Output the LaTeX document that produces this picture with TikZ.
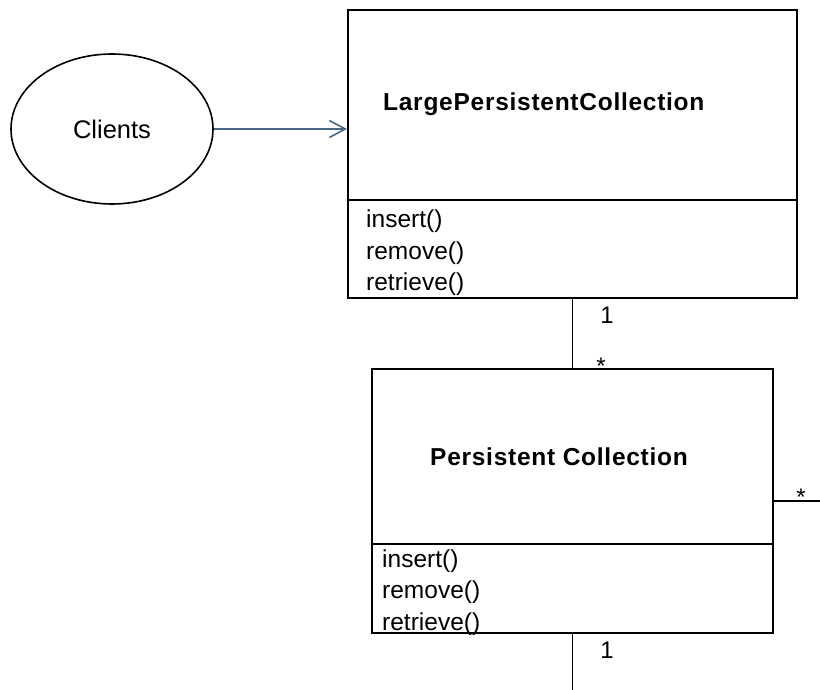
\documentclass[tikz,border=0pt]{standalone}
\usepackage{fontspec}
\setmainfont{Liberation Sans}
\newfontfamily\titlefont[LetterSpace=3]{Liberation Sans}
\usetikzlibrary{arrows.meta,shapes.geometric}
\definecolor{linkblue}{RGB}{74,104,134}
\tikzset{
  classbox/.style={draw=black, line width=1.9pt, inner sep=0pt},
  divider/.style={draw=black, line width=1.9pt},
  txt/.style={inner sep=0pt, anchor=base west, font=\fontsize{24.5}{29}\selectfont},
  title/.style={inner sep=0pt, anchor=base west, font=\titlefont\bfseries\fontsize{24.5}{29}\selectfont},
  mult/.style={inner sep=0pt, anchor=base, font=\fontsize{24}{29}\selectfont},
  assoc/.style={draw=black, line width=1.6pt},
  usage/.style={draw=linkblue, line width=1.6pt, -{Straight Barb[length=16pt, width=17pt, line width=1.6pt]}},
}
\begin{document}
\begin{tikzpicture}[x=1pt, y=-1pt]
\useasboundingbox (0,0) rectangle (820,690);

% client actor
\node (clients) [draw, ellipse, line width=1.6pt, inner sep=0pt,
  minimum width=202pt, minimum height=150pt,
  font=\fontsize{25.5}{30}\selectfont] at (112,129) {Clients};

% LargePersistentCollection class
\node (lpc) [classbox, minimum width=449pt, minimum height=288pt] at (572.5,154) {};
\draw[divider] (lpc.west |- 0,200) -- (lpc.east |- 0,200);
\node (lpcName) [title] at (383,111) {LargePersistentCollection};
\node (lpcInsert) [txt] at (366,227) {insert()};
\node (lpcRemove) [txt] at (366,259) {remove()};
\node (lpcRetrieve) [txt] at (366,290) {retrieve()};

% Persistent Collection class
\node (pc) [classbox, minimum width=401pt, minimum height=264pt] at (572.5,501) {};
\draw[divider] (pc.west |- 0,544) -- (pc.east |- 0,544);
\node (pcName) [title] at (430,465) {Persistent Collection};
\node (pcInsert) [txt] at (382,567) {insert()};
\node (pcRemove) [txt] at (382,598) {remove()};
\node (pcRetrieve) [txt] at (382,630) {retrieve()};

% connectors
\draw[usage] (clients.east) -- (clients.east -| lpc.west);
\draw[assoc] (lpc.south) -- (pc.north);
\coordinate (downEnd) at (572.5,690);
\coordinate (rightEnd) at (820,501);
\draw[assoc] (pc.south) -- (downEnd);
\draw[assoc] (pc.east) -- (rightEnd);

% multiplicities
\node (m1) [mult] at (607,323) {1};
\node (m2) [mult] at (601,374) {*};
\node (m3) [mult] at (801,505) {*};
\node (m4) [mult] at (607,658) {1};
\end{tikzpicture}
\end{document}
